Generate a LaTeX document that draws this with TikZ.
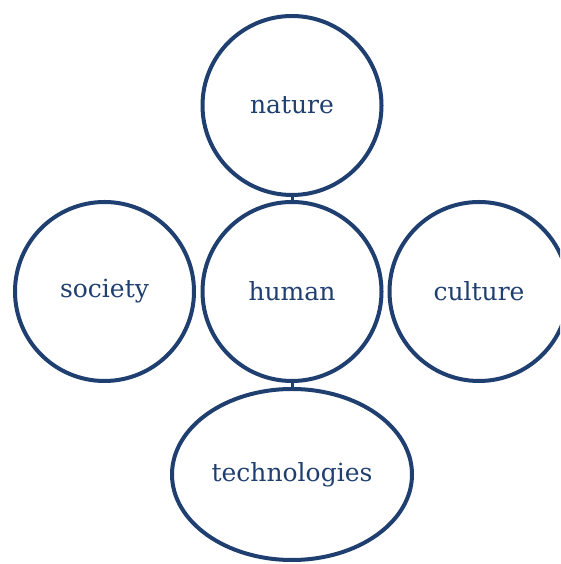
\documentclass[tikz,border=0pt]{standalone}
\usepackage{fontspec}
\setmainfont{DejaVu Serif}
\usetikzlibrary{shapes.geometric}
\definecolor{ringblue}{HTML}{1F3F70}
\begin{document}
\begin{tikzpicture}[x=1pt,y=1pt,
  ring/.style={circle,draw=ringblue,line width=4pt,minimum size=179pt,inner sep=0pt,
    text=ringblue,font=\fontsize{25}{30}\selectfont},
  oval/.style={ellipse,draw=ringblue,line width=4pt,minimum width=240pt,minimum height=171pt,inner sep=0pt,
    text=ringblue,font=\fontsize{25}{30}\selectfont},
  link/.style={draw=ringblue,line width=3pt}]
\clip (0,0) rectangle (560,564);
\useasboundingbox (0,0) rectangle (560,564);
\node[ring] (nature) at (292,458.5) {nature};
\node[ring] (human) at (292,272.5) {human};
\node[ring] (society) at (104.5,272.5) {society};
\node[ring] (culture) at (479,272.5) {culture};
\node[oval] (tech) at (292,89.5) {technologies};
\draw[link] (nature.south) -- (human.north);
\draw[link] (human.south) -- (tech.north);
\end{tikzpicture}
\end{document}
